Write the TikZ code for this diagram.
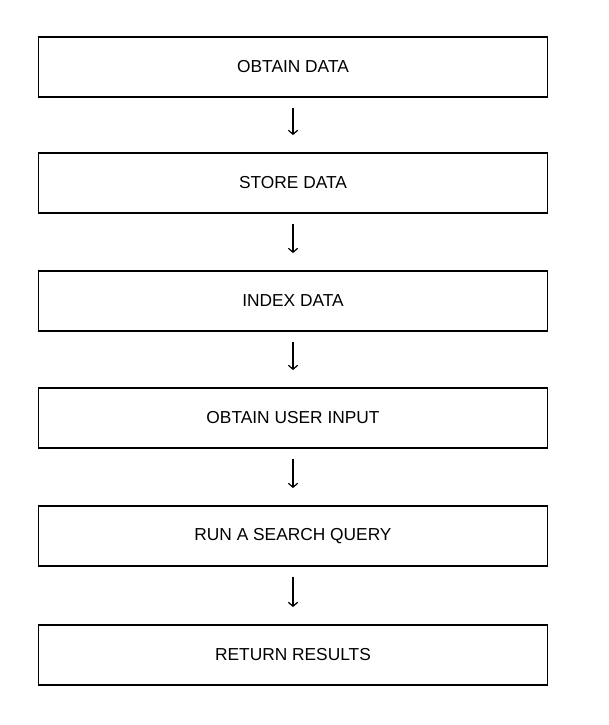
\documentclass[tikz,border=0pt]{standalone}
\usepackage{fontspec}
\setmainfont{Liberation Sans}
\usetikzlibrary{arrows.meta}
\begin{document}
\begin{tikzpicture}[x=0.75pt,y=-0.75pt,
  stage/.style={draw,line width=0.9pt,minimum width=382pt,minimum height=45pt,inner sep=0pt,font=\fontsize{13}{15}\selectfont},
  flow/.style={-{Straight Barb[length=3pt,width=7pt]},line width=0.9pt,shorten <=7.5pt,shorten >=13pt}]
  \useasboundingbox (0,0) rectangle (609,725);
  \node[stage] (obtain) at (293,67) {OBTAIN DATA};
  \node[stage] (store) at (293,183) {STORE DATA};
  \node[stage] (index) at (293,301) {INDEX DATA};
  \node[stage] (input) at (293,418) {OBTAIN USER INPUT};
  \node[stage] (query) at (293,536) {RUN A SEARCH QUERY};
  \node[stage] (results) at (293,655) {RETURN RESULTS};
  \draw [flow] (obtain) -- (store);
  \draw [flow] (store) -- (index);
  \draw [flow] (index) -- (input);
  \draw [flow] (input) -- (query);
  \draw [flow] (query) -- (results);
\end{tikzpicture}
\end{document}
